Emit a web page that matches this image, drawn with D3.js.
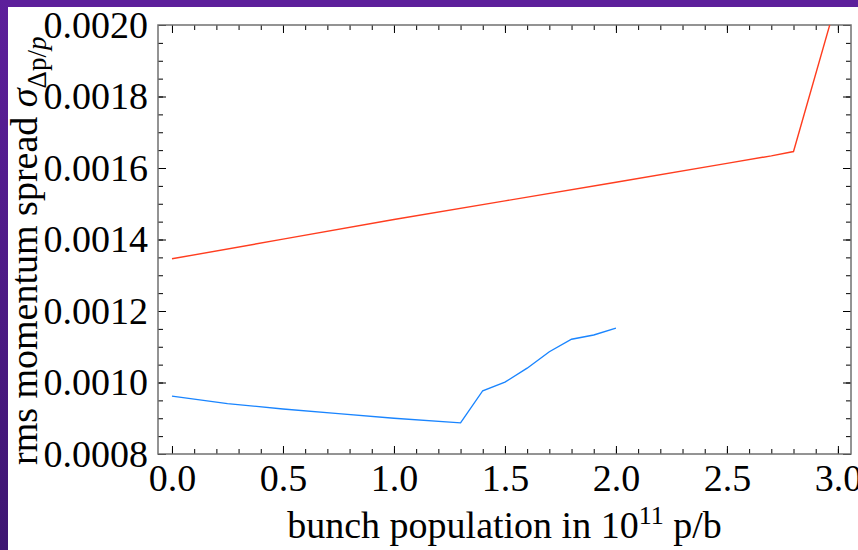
<!DOCTYPE html>
<meta charset="utf-8">
<style>
body { margin: 0; background: #fff; }
svg { display: block; }
text { font-family: "Liberation Serif", "Times New Roman", serif; fill: #000; }
.axis text { font-size: 38px; }
.axis line { stroke: #000; stroke-width: 1; }
.axis .domain { display: none; }
</style>
<body>
<script src="https://cdn.jsdelivr.net/npm/d3@7"></script>
<script>
'use strict';

// bunch population (1e11 p/b) and rms momentum spread
const redX = [0.0, 0.5, 1.0, 1.5, 2.0, 2.5, 2.7, 2.8, 3.0];
const redY = [0.001346, 0.001401, 0.001456, 0.001508, 0.00156, 0.001613, 0.001634, 0.001646, 0.00208];
const blueX = [0.0, 0.25, 0.5, 0.75, 1.0, 1.3, 1.4, 1.5, 1.6, 1.7, 1.8, 1.9, 2.0];
const blueY = [0.000962, 0.000941, 0.000926, 0.000913, 0.0009, 0.000887, 0.000977, 0.001001, 0.00104, 0.001086, 0.001121, 0.001133, 0.001152];

const xMajor = [0, 0.5, 1, 1.5, 2, 2.5, 3];
const xMinor = d3.range(0, 31).map(i => i / 10);
const yMajor = [0.0008, 0.001, 0.0012, 0.0014, 0.0016, 0.0018, 0.002];
const yMinor = d3.range(16, 41).map(i => i * 0.00005);

const W = 858, H = 550;
const frame = {left: 158, right: 851, top: 25, bottom: 454};

const x = d3.scaleLinear().domain([-0.063, 3.059]).range([frame.left, frame.right]);
const y = d3.scaleLinear().domain([0.0008, 0.002]).range([frame.bottom, frame.top]);

const svg = d3.select("body").append("svg")
    .attr("width", W)
    .attr("height", H);

// purple slide border along the top and left edges
const defs = svg.append("defs");
const grad = defs.append("linearGradient")
    .attr("id", "edge").attr("x1", 0).attr("y1", 0).attr("x2", 0).attr("y2", 1);
grad.append("stop").attr("offset", 0).attr("stop-color", "#5d1f9b");
grad.append("stop").attr("offset", 1).attr("stop-color", "#3e1672");
svg.append("rect").attr("width", W).attr("height", 7).attr("fill", "#5d1f9b");
svg.append("rect").attr("width", 8).attr("height", H).attr("fill", "url(#edge)");

defs.append("clipPath").attr("id", "plot")
  .append("rect")
    .attr("x", frame.left).attr("y", frame.top)
    .attr("width", frame.right - frame.left)
    .attr("height", frame.bottom - frame.top);

// ticks on all four sides, pointing inward
function ticks(axisFn, pos, values, size, labels) {
  const a = axisFn
      .tickValues(values)
      .tickSizeInner(-size)
      .tickSizeOuter(0)
      .tickPadding(10)
      .tickFormat(labels ? labels : "");
  svg.append("g").attr("class", "axis").attr("transform", pos).call(a);
}

const fx = d3.format(".1f"), fy = d3.format(".4f");
ticks(d3.axisBottom(x), `translate(0,${frame.bottom})`, xMinor, 5);
ticks(d3.axisBottom(x), `translate(0,${frame.bottom})`, xMajor, 8, fx);
ticks(d3.axisTop(x), `translate(0,${frame.top})`, xMinor, 5);
ticks(d3.axisTop(x), `translate(0,${frame.top})`, xMajor, 8);
ticks(d3.axisLeft(y), `translate(${frame.left},0)`, yMinor, 5);
ticks(d3.axisLeft(y), `translate(${frame.left},0)`, yMajor, 8, fy);
ticks(d3.axisRight(y), `translate(${frame.right},0)`, yMinor, 5);
ticks(d3.axisRight(y), `translate(${frame.right},0)`, yMajor, 8);

svg.append("rect")
    .attr("x", frame.left).attr("y", frame.top)
    .attr("width", frame.right - frame.left)
    .attr("height", frame.bottom - frame.top)
    .attr("fill", "none")
    .attr("stroke", "#707070")
    .attr("stroke-width", 1.5);

const line = d3.line().x(d => x(d[0])).y(d => y(d[1]));
const series = [
  {xs: redX, ys: redY, color: "#ff3d1f"},
  {xs: blueX, ys: blueY, color: "#1a85ff"}
];
svg.append("g").attr("clip-path", "url(#plot)")
  .selectAll("path")
  .data(series)
  .join("path")
    .attr("d", s => line(s.xs.map((v, i) => [v, s.ys[i]])))
    .attr("fill", "none")
    .attr("stroke", s => s.color)
    .attr("stroke-width", 1.4);

// axis titles
const xt = svg.append("text")
    .attr("x", (frame.left + frame.right) / 2)
    .attr("y", 538)
    .attr("text-anchor", "middle")
    .style("font-size", "38px");
xt.append("tspan").text("bunch population in 10");
xt.append("tspan").attr("dy", -14).style("font-size", "26px").text("11");
xt.append("tspan").attr("dy", 14).text(" p/b");

const yt = svg.append("text")
    .attr("transform", "translate(37,465) rotate(-90)")
    .style("font-size", "38px");
yt.append("tspan").text("rms momentum spread ");
yt.append("tspan").style("font-style", "italic").text("σ");
yt.append("tspan").attr("dy", 9).style("font-size", "27px").text("Δp/");
yt.append("tspan").style("font-size", "27px").style("font-style", "italic").text("p");
</script>
</body>
